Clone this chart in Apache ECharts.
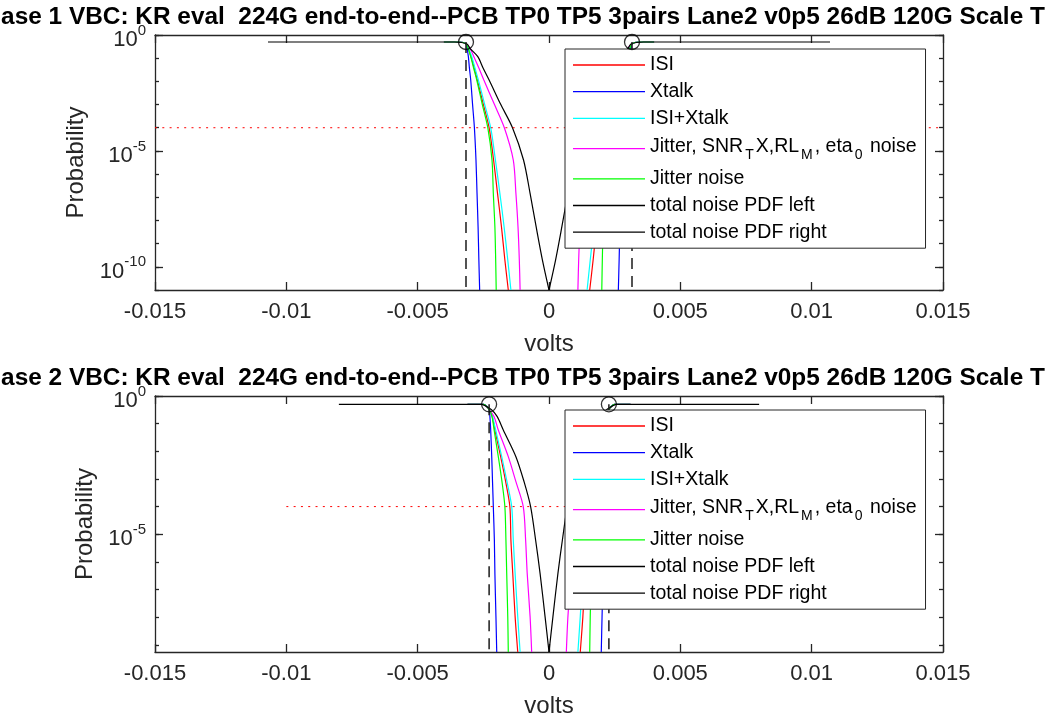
<!DOCTYPE html>
<html><head><meta charset="utf-8">
<script src="https://cdn.jsdelivr.net/npm/echarts@6/dist/echarts.min.js"></script>
<style>html,body{margin:0;padding:0;background:#fff;overflow:hidden}#c{width:1056px;height:719px}</style>
</head><body><div id="c"></div>
<script>
// ---------- text ----------
const titles = [
  'ase 1 VBC: KR eval  224G end-to-end--PCB TP0 TP5 3pairs Lane2 v0p5 26dB 120G Scale T',
  'ase 2 VBC: KR eval  224G end-to-end--PCB TP0 TP5 3pairs Lane2 v0p5 26dB 120G Scale T'
];
const xName = 'volts';
const yName = 'Probability';
const seriesNames = ['ISI', 'Xtalk', 'ISI+Xtalk', 'Jitter, SNR_TX,RL_M, eta_0 noise', 'Jitter noise', 'total noise PDF left', 'total noise PDF right'];
const legendLabels = ['ISI', 'Xtalk', 'ISI+Xtalk', '{n|Jitter, SNR}{sub|T}{n|X,RL}{sub|M}{n|, eta}{sub|0}{n| noise}', 'Jitter noise', 'total noise PDF left', 'total noise PDF right'];
const seriesColors = ['#ff0000', '#0000ff', '#00ffff', '#ff00ff', '#00ff00', '#000000', '#000000'];

// ---------- ticks ----------
const xTicks = [-0.015, -0.01, -0.005, 0, 0.005, 0.01, 0.015];
const xTickLabels = ['-0.015', '-0.01', '-0.005', '0', '0.005', '0.01', '0.015'];
const yMajorTicks = [1, 1e-5, 1e-10];
const yMajorExp = ['0', '-5', '-10'];
const yMinorTicks = [1, 1e-1, 1e-2, 1e-3, 1e-4, 1e-5, 1e-6, 1e-7, 1e-8, 1e-9, 1e-10, 1e-11];
const yMin = [1e-11, 5.5e-10];
const yMax = [1, 1];

// ---------- Case 1 ----------
// probability levels at which the curves were read (plateau -> bottom)
const c1P = [0.5, 0.5, 0.41, 0.267, 0.116, 0.0377, 0.01145, 1.02e-3, 1e-4, 4.05e-6, 1.48e-7, 5.37e-9, 1.96e-10, 1e-11];
const c1IsiL    = [-0.0040, -0.0034, -0.00315, -0.00308, -0.00297, -0.00285, -0.00273, -0.00250, -0.00228, -0.00211, -0.00196, -0.00181, -0.00168, -0.00155];
const c1IsiR    = [0.0040, 0.0034, 0.00315, 0.00308, 0.00297, 0.00285, 0.00273, 0.00250, 0.00228, 0.00211, 0.00196, 0.00181, 0.00168, 0.00155];
const c1XtL     = [-0.0040, -0.0034, -0.00315, -0.00312, -0.00307, -0.00303, -0.00298, -0.00291, -0.00284, -0.00278, -0.00274, -0.00270, -0.00267, -0.00264];
const c1XtR     = [0.0040, 0.0034, 0.00315, 0.00312, 0.00307, 0.00303, 0.00298, 0.00291, 0.00284, 0.00278, 0.00274, 0.00270, 0.00267, 0.00264];
const c1IsiXtL  = [-0.0040, -0.0034, -0.00315, -0.00307, -0.00294, -0.00282, -0.00269, -0.00245, -0.00222, -0.00204, -0.00187, -0.00171, -0.00157, -0.00145];
const c1IsiXtR  = [0.0040, 0.0034, 0.00315, 0.00307, 0.00294, 0.00282, 0.00269, 0.00245, 0.00222, 0.00204, 0.00187, 0.00171, 0.00157, 0.00145];
const c1JitAllL = [-0.0040, -0.0034, -0.00315, -0.00301, -0.00286, -0.00267, -0.00248, -0.00208, -0.00170, -0.00136, -0.00126, -0.00118, -0.00113, -0.00110];
const c1JitAllR = [0.0040, 0.0034, 0.00315, 0.00301, 0.00286, 0.00267, 0.00248, 0.00208, 0.00170, 0.00136, 0.00126, 0.00118, 0.00113, 0.00110];
const c1JitL    = [-0.0040, -0.0034, -0.00315, -0.00308, -0.00298, -0.00287, -0.00275, -0.00254, -0.00233, -0.00217, -0.00212, -0.00206, -0.00203, -0.00201];
const c1JitR    = [0.0040, 0.0034, 0.00315, 0.00308, 0.00298, 0.00287, 0.00275, 0.00254, 0.00233, 0.00217, 0.00212, 0.00206, 0.00203, 0.00201];
const c1TotL    = [-0.0107, -0.0036, -0.00312, -0.00301, -0.00271, -0.00251, -0.00228, -0.00184, -0.00139, -0.00097, -0.00072, -0.00049, -0.00025, 0];
const c1TotR    = [0, 0.00025, 0.00049, 0.00072, 0.00097, 0.00139, 0.00184, 0.00228, 0.00251, 0.00271, 0.00301, 0.00312, 0.0036, 0.0107];
const c1TotRP   = [1e-11, 1.96e-10, 5.37e-9, 1.48e-7, 4.05e-6, 1e-4, 1.02e-3, 0.01145, 0.0377, 0.116, 0.267, 0.41, 0.5, 0.5];
const c1Eye     = [-0.00316, 0.00316];
const c1EyeP    = 0.5;
const c1TargetX = [-0.015, 0.015];
const c1TargetP = 1e-4;

// ---------- Case 2 ----------
const c2P = [0.5, 0.5, 0.312, 0.179, 0.0589, 6.4e-3, 7.98e-4, 1e-4, 6.2e-6, 3.85e-7, 1.05e-8, 5.5e-10];
const c2IsiL    = [-0.0031, -0.0025, -0.00227, -0.00216, -0.00206, -0.00184, -0.00165, -0.00149, -0.00145, -0.00138, -0.00129, -0.00119];
const c2IsiR    = [0.0031, 0.0025, 0.00227, 0.00216, 0.00206, 0.00184, 0.00165, 0.00149, 0.00145, 0.00138, 0.00129, 0.00119];
const c2XtL     = [-0.0031, -0.0025, -0.00227, -0.00225, -0.00222, -0.00218, -0.00215, -0.00212, -0.00208, -0.00206, -0.00202, -0.00199];
const c2XtR     = [0.0031, 0.0025, 0.00227, 0.00225, 0.00222, 0.00218, 0.00215, 0.00212, 0.00208, 0.00206, 0.00202, 0.00199];
const c2IsiXtL  = [-0.0031, -0.0025, -0.00227, -0.00215, -0.00203, -0.00180, -0.00160, -0.00142, -0.00136, -0.00129, -0.00119, -0.00110];
const c2IsiXtR  = [0.0031, 0.0025, 0.00227, 0.00215, 0.00203, 0.00180, 0.00160, 0.00142, 0.00136, 0.00129, 0.00119, 0.00110];
const c2JitAllL = [-0.0031, -0.0025, -0.00227, -0.00209, -0.00193, -0.00155, -0.00126, -0.00098, -0.00089, -0.00083, -0.00072, -0.00066];
const c2JitAllR = [0.0031, 0.0025, 0.00227, 0.00209, 0.00193, 0.00155, 0.00126, 0.00098, 0.00089, 0.00083, 0.00072, 0.00066];
const c2JitL    = [-0.0031, -0.0025, -0.00227, -0.00217, -0.00209, -0.00193, -0.00179, -0.00168, -0.00164, -0.00161, -0.00157, -0.00155];
const c2JitR    = [0.0031, 0.0025, 0.00227, 0.00217, 0.00209, 0.00193, 0.00179, 0.00168, 0.00164, 0.00161, 0.00157, 0.00155];
const c2TotL    = [-0.0080, -0.0026, -0.00218, -0.00197, -0.00174, -0.00126, -0.00095, -0.00070, -0.00051, -0.00034, -0.00015, 0];
const c2TotR    = [0, 0.00015, 0.00034, 0.00051, 0.00070, 0.00095, 0.00126, 0.00174, 0.00197, 0.00218, 0.0026, 0.0080];
const c2TotRP   = [5.5e-10, 1.05e-8, 3.85e-7, 6.2e-6, 1e-4, 7.98e-4, 6.4e-3, 0.0589, 0.179, 0.312, 0.5, 0.5];
const c2Eye     = [-0.00228, 0.00228];
const c2EyeP    = 0.5;
const c2TargetX = [-0.01, 0.01];
const c2TargetP = 1e-4;

// ---------- build ----------
const FONT = '"Liberation Sans", Arial, Helvetica, sans-serif';
const AX = '#262626';
const zip = (xs, ps) => xs.map((x, i) => [x, ps[i]]);

const grids = [
  { left: 155, top: 35, width: 788, height: 255 },
  { left: 155, top: 396, width: 788, height: 256 }
];
const legendTops = [49, 410];
const yNameGaps = [67, 57];
const titleTops = [0, 361];

const cases = [
  { P: c1P, curves: [[c1IsiL, c1IsiR], [c1XtL, c1XtR], [c1IsiXtL, c1IsiXtR], [c1JitAllL, c1JitAllR], [c1JitL, c1JitR]],
    totL: c1TotL, totR: c1TotR, totRP: c1TotRP, eye: c1Eye, eyeP: c1EyeP, tX: c1TargetX, tP: c1TargetP },
  { P: c2P, curves: [[c2IsiL, c2IsiR], [c2XtL, c2XtR], [c2IsiXtL, c2IsiXtR], [c2JitAllL, c2JitAllR], [c2JitL, c2JitR]],
    totL: c2TotL, totR: c2TotR, totRP: c2TotRP, eye: c2Eye, eyeP: c2EyeP, tX: c2TargetX, tP: c2TargetP }
];

const xAxis = [], yAxis = [], series = [], legend = [], title = [];

function yLabelFmt(v) {
  let best = 0, bd = 1e9;
  yMajorTicks.forEach((m, i) => { const d = Math.abs(Math.log10(m) - Math.log10(v)); if (d < bd) { bd = d; best = i; } });
  return '{b|10}{s|' + yMajorExp[best] + '}';
}
const lineAx = { show: true, onZero: false, lineStyle: { color: AX, width: 1.3 } };
const noLineAx = { show: false, onZero: false };

cases.forEach((c, g) => {
  title.push({
    text: titles[g], left: 518, top: titleTops[g], textAlign: 'center',
    textStyle: { fontFamily: FONT, fontWeight: 'bold', fontSize: 24.4, color: '#000' }
  });
  const xi = xAxis.length;
  xAxis.push({
    type: 'value', gridIndex: g, position: 'bottom', min: -0.015, max: 0.015, interval: 0.005,
    name: xName, nameLocation: 'middle', nameGap: 42,
    nameTextStyle: { fontFamily: FONT, fontSize: 24, color: AX },
    axisLine: lineAx,
    axisTick: { show: true, inside: true, length: 8, lineStyle: { color: AX, width: 1.3 } },
    axisLabel: { fontFamily: FONT, fontSize: 22, color: AX, margin: 11,
      formatter: v => { const i = xTicks.findIndex(t => Math.abs(t - v) < 1e-9); return i >= 0 ? xTickLabels[i] : ''; } },
    splitLine: { show: false }
  });
  xAxis.push({
    type: 'value', gridIndex: g, position: 'top', min: -0.015, max: 0.015, interval: 0.005,
    axisLine: lineAx,
    axisTick: { show: true, inside: true, length: 8, lineStyle: { color: AX, width: 1.3 } },
    axisLabel: { show: false }, splitLine: { show: false }
  });
  const yi = yAxis.length;
  const yBase = { type: 'log', logBase: 10, gridIndex: g, min: yMin[g], max: yMax[g], splitLine: { show: false } };
  yAxis.push(Object.assign({}, yBase, {
    position: 'left', name: yName, nameLocation: 'middle', nameGap: yNameGaps[g],
    nameTextStyle: { fontFamily: FONT, fontSize: 24, color: AX },
    axisLine: lineAx,
    axisTick: { show: true, inside: true, length: 8, customValues: yMajorTicks, lineStyle: { color: AX, width: 1.3 } },
    axisLabel: { show: true, customValues: yMajorTicks, margin: 9, formatter: yLabelFmt, padding: [4, 0, 0, 0],
      rich: {
        b: { fontFamily: FONT, fontSize: 22, lineHeight: 22, color: AX, verticalAlign: 'bottom' },
        s: { fontFamily: FONT, fontSize: 15, lineHeight: 28, color: AX, verticalAlign: 'top' }
      } }
  }));
  yAxis.push(Object.assign({}, yBase, {
    position: 'left', axisLine: noLineAx,
    axisTick: { show: true, inside: true, length: 4, customValues: yMinorTicks, lineStyle: { color: AX, width: 1.3 } },
    axisLabel: { show: false }
  }));
  yAxis.push(Object.assign({}, yBase, {
    position: 'right', axisLine: lineAx,
    axisTick: { show: true, inside: true, length: 8, customValues: yMajorTicks, lineStyle: { color: AX, width: 1.3 } },
    axisLabel: { show: false }
  }));
  yAxis.push(Object.assign({}, yBase, {
    position: 'right', axisLine: noLineAx,
    axisTick: { show: true, inside: true, length: 4, customValues: yMinorTicks, lineStyle: { color: AX, width: 1.3 } },
    axisLabel: { show: false }
  }));

  const common = { type: 'line', xAxisIndex: xi, yAxisIndex: yi, symbol: 'none', showSymbol: false, clip: true, animation: false, silent: true };
  const curveOpt = { smooth: 0.3 };
  c.curves.forEach((pair, k) => {
    pair.forEach(xs => {
      series.push(Object.assign({}, common, curveOpt, {
        name: seriesNames[k], data: zip(xs, c.P), z: 2,
        lineStyle: { color: seriesColors[k], width: 1.2 }, itemStyle: { color: seriesColors[k] }
      }));
    });
  });
  series.push(Object.assign({}, common, curveOpt, {
    name: seriesNames[5], data: zip(c.totL, c.P), z: 3,
    lineStyle: { color: seriesColors[5], width: 1.2 }, itemStyle: { color: seriesColors[5] }
  }));
  series.push(Object.assign({}, common, curveOpt, {
    name: seriesNames[6], data: zip(c.totR, c.totRP), z: 3,
    lineStyle: { color: seriesColors[6], width: 1.2 }, itemStyle: { color: seriesColors[6] }
  }));
  // eye-opening markers: dashed verticals + open circles
  c.eye.forEach(x => {
    series.push(Object.assign({}, common, {
      data: [[x, c.eyeP], [x, yMin[g]]], z: 3,
      lineStyle: { color: '#1a1a1a', width: 1.5, type: [11, 7] }
    }));
  });
  series.push({
    type: 'scatter', xAxisIndex: xi, yAxisIndex: yi, data: c.eye.map(x => [x, c.eyeP]), symbol: 'circle', symbolSize: 15,
    itemStyle: { color: 'rgba(0,0,0,0)', borderColor: '#000', borderWidth: 1.3 }, z: 4, silent: true, animation: false, clip: false
  });
  // target probability line
  series.push(Object.assign({}, common, {
    data: c.tX.map(x => [x, c.tP]), z: 3,
    lineStyle: { color: '#ff0000', width: 1, type: [2, 5.3] }
  }));

  legend.push({
    orient: 'vertical', left: 565, top: legendTops[g], data: seriesNames,
    icon: 'rect', itemWidth: 72, itemHeight: 1.3, itemGap: 6.7,
    padding: [6, 9, 6, 8], backgroundColor: '#fff', borderColor: AX, borderWidth: 1,
    selectedMode: false,
    formatter: name => legendLabels[seriesNames.indexOf(name)],
    textStyle: {
      fontFamily: FONT, fontSize: 19.5, lineHeight: 20, color: '#000',
      rich: {
        n: { fontFamily: FONT, fontSize: 19.5, lineHeight: 20, color: '#000', verticalAlign: 'top', padding: [2, 0, 0, 0] },
        sub: { fontFamily: FONT, fontSize: 14, lineHeight: 27, color: '#000', verticalAlign: 'bottom', padding: [0, 2, 0, 2] }
      }
    }
  });
});

const chart = echarts.init(document.getElementById('c'), null, { renderer: 'canvas' });
chart.setOption({
  backgroundColor: '#fff', animation: false,
  title, grid: grids, xAxis, yAxis, series, legend
});
</script></body></html>
